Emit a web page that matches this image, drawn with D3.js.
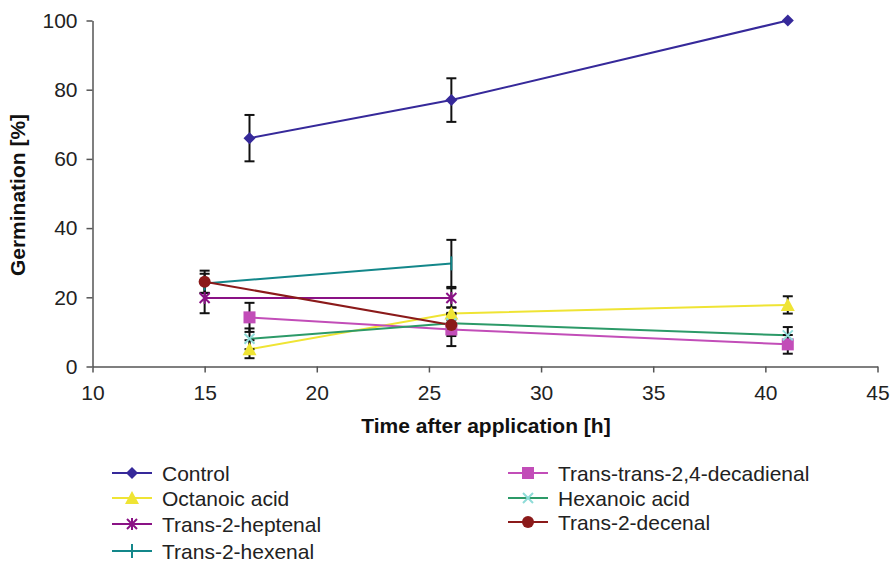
<!DOCTYPE html>
<html>
<head>
<meta charset="utf-8">
<style>
  body { margin: 0; background: #fff; }
  svg { font-family: "Liberation Sans", Arial, sans-serif; }
  .axis path, .axis line { stroke: #555; stroke-width: 1.5; }
  .axis text { font-size: 21px; fill: #222; }
  .title { font-size: 21px; font-weight: bold; fill: #111; }
  .legend text { font-size: 21px; fill: #222; }
</style>
<script src="https://d3js.org/d3.v7.min.js"></script>
</head>
<body>
<svg width="891" height="561"></svg>
<script>
  const seriesNames = ['Control', 'Octanoic acid', 'Trans-2-heptenal', 'Trans-2-hexenal',
                       'Trans-trans-2,4-decadienal', 'Hexanoic acid', 'Trans-2-decenal'];
  const timeControl = [17, 26, 41];
  const valControl = [66, 77, 100];
  const errControl = [6.7, 6.3, 0];
  const timeOctanoic = [17, 26, 41];
  const valOctanoic = [5, 15.3, 17.8];
  const errOctanoic = [2.6, 1.8, 2.5];
  const timeHeptenal = [15, 26];
  const valHeptenal = [19.8, 19.8];
  const errHeptenal = [4.4, 2.8];
  const timeHexenal = [15, 26];
  const valHexenal = [24, 29.8];
  const errHexenal = [2.8, 6.8];
  const timeDecadienal = [17, 26, 41];
  const valDecadienal = [14.2, 10.7, 6.4];
  const errDecadienal = [4.2, 4.8, 2.7];
  const timeHexanoic = [17, 26, 41];
  const valHexanoic = [8, 12.5, 9];
  const errHexanoic = [3, 2.5, 2.4];
  const timeDecenal = [15, 26];
  const valDecenal = [24.5, 12];
  const errDecenal = [3.2, 3.2];
  const xTicks = [10, 15, 20, 25, 30, 35, 40, 45];
  const yTicks = [0, 20, 40, 60, 80, 100];

  const series = [
    { name: seriesNames[0], t: timeControl, v: valControl, e: errControl, line: '#36299a', fill: '#36299a', sym: 'diamond' },
    { name: seriesNames[1], t: timeOctanoic, v: valOctanoic, e: errOctanoic, line: '#efe434', fill: '#efe434', sym: 'triangle' },
    { name: seriesNames[2], t: timeHeptenal, v: valHeptenal, e: errHeptenal, line: '#8a1285', fill: '#8a1285', sym: 'star' },
    { name: seriesNames[3], t: timeHexenal, v: valHexenal, e: errHexenal, line: '#13878a', fill: '#13878a', sym: 'plus' },
    { name: seriesNames[4], t: timeDecadienal, v: valDecadienal, e: errDecadienal, line: '#c24db8', fill: '#c24db8', sym: 'square' },
    { name: seriesNames[5], t: timeHexanoic, v: valHexanoic, e: errHexanoic, line: '#2c9a68', fill: '#8fdcd8', sym: 'cross' },
    { name: seriesNames[6], t: timeDecenal, v: valDecenal, e: errDecenal, line: '#8b1a1a', fill: '#8b1a1a', sym: 'circle' }
  ];

  const svg = d3.select('svg');
  const x = d3.scaleLinear().domain([10, 45]).range([92.5, 877.5]);
  const y = d3.scaleLinear().domain([0, 100]).range([366.5, 20.5]);

  svg.append('g').attr('class', 'axis')
    .attr('transform', 'translate(0,366.5)')
    .call(d3.axisBottom(x).tickValues(xTicks).tickSize(6).tickSizeOuter(0).tickPadding(13));
  svg.append('g').attr('class', 'axis')
    .attr('transform', 'translate(92.5,0)')
    .call(d3.axisLeft(y).tickValues(yTicks).tickSize(6).tickSizeOuter(0).tickPadding(9));

  svg.append('text').attr('class', 'title')
    .attr('x', 486).attr('y', 433).attr('text-anchor', 'middle')
    .text('Time after application [h]');
  svg.append('text').attr('class', 'title')
    .attr('transform', 'translate(25,195) rotate(-90)').attr('text-anchor', 'middle')
    .text('Germination [%]');

  function drawMarker(g, s, cx, cy) {
    const c = s.fill;
    if (s.sym === 'diamond') {
      g.append('path').attr('d', `M${cx},${cy - 6}L${cx + 6},${cy}L${cx},${cy + 6}L${cx - 6},${cy}Z`).attr('fill', c);
    } else if (s.sym === 'triangle') {
      g.append('path').attr('d', `M${cx},${cy - 7}L${cx + 7},${cy + 6}L${cx - 7},${cy + 6}Z`).attr('fill', c);
    } else if (s.sym === 'square') {
      g.append('rect').attr('x', cx - 6).attr('y', cy - 6).attr('width', 12).attr('height', 12).attr('fill', c);
    } else if (s.sym === 'circle') {
      g.append('circle').attr('cx', cx).attr('cy', cy).attr('r', 6).attr('fill', c);
    } else if (s.sym === 'star') {
      g.append('path').attr('d', `M${cx - 5},${cy - 5}L${cx + 5},${cy + 5}M${cx - 5},${cy + 5}L${cx + 5},${cy - 5}M${cx},${cy - 6}L${cx},${cy + 6}`)
        .attr('stroke', c).attr('stroke-width', 2).attr('fill', 'none');
    } else if (s.sym === 'cross') {
      g.append('path').attr('d', `M${cx - 5},${cy - 5}L${cx + 5},${cy + 5}M${cx - 5},${cy + 5}L${cx + 5},${cy - 5}`)
        .attr('stroke', c).attr('stroke-width', 2).attr('fill', 'none');
    } else if (s.sym === 'plus') {
      g.append('path').attr('d', `M${cx},${cy - 7}L${cx},${cy + 7}`)
        .attr('stroke', c).attr('stroke-width', 2).attr('fill', 'none');
    }
  }

  const line = d3.line().x(d => x(d[0])).y(d => y(d[1]));
  const plot = svg.append('g');

  // lines
  series.forEach(s => {
    const pts = s.t.map((t, i) => [t, s.v[i]]);
    plot.append('path').datum(pts).attr('d', line)
      .attr('fill', 'none').attr('stroke', s.line).attr('stroke-width', 2);
  });

  // error bars
  series.forEach(s => {
    s.t.forEach((t, i) => {
      if (!s.e[i]) return;
      const cx = x(t), top = y(s.v[i] + s.e[i]), bot = y(s.v[i] - s.e[i]);
      const g = plot.append('g').attr('stroke', '#111').attr('stroke-width', 2);
      g.append('line').attr('x1', cx).attr('x2', cx).attr('y1', top).attr('y2', bot);
      g.append('line').attr('x1', cx - 5).attr('x2', cx + 5).attr('y1', top).attr('y2', top);
      g.append('line').attr('x1', cx - 5).attr('x2', cx + 5).attr('y1', bot).attr('y2', bot);
    });
  });

  // markers
  series.forEach(s => {
    const g = plot.append('g');
    s.t.forEach((t, i) => drawMarker(g, s, x(t), y(s.v[i])));
  });

  // legend
  const legendPos = [[112, 473], [112, 498], [112, 524], [112, 551], [508, 473], [508, 498], [508, 522]];
  const legend = svg.append('g').attr('class', 'legend');
  series.forEach((s, i) => {
    const [lx, ly] = legendPos[i];
    const g = legend.append('g');
    g.append('line').attr('x1', lx).attr('x2', lx + 40).attr('y1', ly).attr('y2', ly)
      .attr('stroke', s.line).attr('stroke-width', 2);
    drawMarker(g, s, lx + 20, ly);
    g.append('text').attr('x', lx + 50).attr('y', ly + 7.5).text(s.name);
  });
</script>
</body>
</html>
